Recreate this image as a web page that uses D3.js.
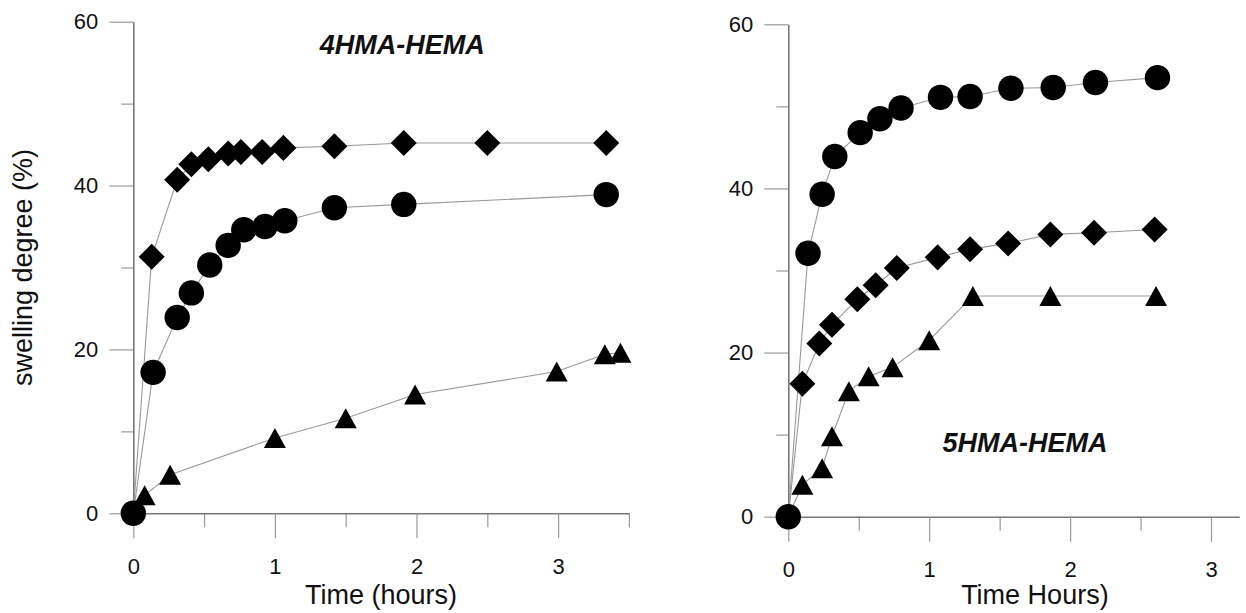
<!DOCTYPE html>
<meta charset="utf-8">
<html>
<head>
	<script src="https://cdn.jsdelivr.net/npm/d3@7/dist/d3.min.js"></script>
	<style>
		body { margin: 0; background: #fff; }
		svg { display: block; font-family: Arial, "Liberation Sans", sans-serif; }
		.tick text { font-size: 22px; fill: #111; }
		.ttl { font-size: 27px; fill: #111; }
		.name { font-size: 27px; font-weight: bold; font-style: italic; fill: #111; }
	</style>
</head>
<body>
	<svg id="chart" width="1246" height="613"></svg>
	<script>
	// 4HMA-HEMA (left panel)
	var leftDiamondT = [0, 0.13, 0.31, 0.41, 0.53, 0.67, 0.76, 0.91, 1.06, 1.42, 1.91, 2.5, 3.34];
	var leftDiamondY = [0, 31.3, 40.7, 42.6, 43.2, 43.9, 44.1, 44.1, 44.6, 44.8, 45.2, 45.2, 45.2];
	var leftCircleT = [0, 0.14, 0.31, 0.41, 0.54, 0.67, 0.78, 0.93, 1.07, 1.42, 1.91, 3.34];
	var leftCircleY = [0, 17.2, 23.9, 26.9, 30.3, 32.7, 34.6, 35.0, 35.7, 37.3, 37.7, 38.9];
	var leftTriT = [0, 0.08, 0.26, 1.0, 1.5, 1.99, 2.99, 3.33, 3.44];
	var leftTriY = [0, 2.2, 4.7, 9.2, 11.6, 14.5, 17.3, 19.4, 19.6];

	// 5HMA-HEMA (right panel)
	var rightCircleT = [0, 0.14, 0.24, 0.33, 0.51, 0.65, 0.8, 1.08, 1.29, 1.58, 1.88, 2.18, 2.62];
	var rightCircleY = [0, 32.1, 39.3, 43.9, 46.8, 48.5, 49.8, 51.1, 51.2, 52.2, 52.3, 52.9, 53.5];
	var rightDiamondT = [0, 0.1, 0.22, 0.31, 0.49, 0.62, 0.77, 1.06, 1.29, 1.56, 1.86, 2.17, 2.6];
	var rightDiamondY = [0, 16.2, 21.1, 23.4, 26.5, 28.2, 30.3, 31.6, 32.6, 33.3, 34.4, 34.6, 35.0];
	var rightTriT = [0, 0.1, 0.24, 0.31, 0.43, 0.57, 0.74, 1.0, 1.31, 1.86, 2.61];
	var rightTriY = [0, 3.9, 5.9, 9.8, 15.3, 17.1, 18.2, 21.5, 26.9, 26.9, 26.9];

	var xMajor = [0, 1, 2, 3];
	var yMajor = [0, 20, 40, 60];
	var yMinor = [10, 30, 50];

	var svg = d3.select("#chart");

	var panels = [
		{ name: "4HMA-HEMA", xmax: 3.5, xr: [133.3, 628.9], yr: [513.3, 21.7],
		  xMinor: [0.5, 1.5, 2.5, 3.5], nameAt: [1.9, 56.1], showYTitle: true,
		  xTitle: "Time (hours)",
		  series: [
			{ t: leftDiamondT, y: leftDiamondY, sym: "diamond" },
			{ t: leftTriT, y: leftTriY, sym: "triangle" },
			{ t: leftCircleT, y: leftCircleY, sym: "circle" } ] },
		{ name: "5HMA-HEMA", xmax: 3.2, xr: [788.3, 1239.2], yr: [516.7, 24.3],
		  xMinor: [0.5, 1.5, 2.5], nameAt: [1.68, 7.9], showYTitle: false,
		  xTitle: "Time Hours)",
		  series: [
			{ t: rightDiamondT, y: rightDiamondY, sym: "diamond" },
			{ t: rightTriT, y: rightTriY, sym: "triangle" },
			{ t: rightCircleT, y: rightCircleY, sym: "circle" } ] }
	];

	var circleSym = d3.symbol().type(d3.symbolCircle).size(Math.PI * 12.7 * 12.7);
	var squareSym = d3.symbol().type(d3.symbolSquare).size(18.4 * 18.4);

	panels.forEach(function(p) {
		var x = d3.scaleLinear().domain([0, p.xmax]).range(p.xr);
		var y = d3.scaleLinear().domain([0, 60]).range(p.yr);
		var g = svg.append("g");

		// x axis: minor then major ticks
		var xMin = g.append("g")
			.attr("transform", "translate(0," + p.yr[0] + ")")
			.call(d3.axisBottom(x).tickValues(p.xMinor).tickSize(14).tickSizeOuter(0).tickFormat(""));
		xMin.select(".domain").remove();
		var xAx = g.append("g")
			.attr("transform", "translate(0," + p.yr[0] + ")")
			.call(d3.axisBottom(x).tickValues(xMajor).tickSize(25).tickSizeOuter(0).tickPadding(20).tickFormat(d3.format("d")));

		var yMin = g.append("g")
			.attr("transform", "translate(" + p.xr[0] + ",0)")
			.call(d3.axisLeft(y).tickValues(yMinor).tickSize(12).tickSizeOuter(0).tickFormat(""));
		yMin.select(".domain").remove();
		var yAx = g.append("g")
			.attr("transform", "translate(" + p.xr[0] + ",0)")
			.call(d3.axisLeft(y).tickValues(yMajor).tickSize(24).tickSizeOuter(0).tickPadding(11).tickFormat(d3.format("d")));

		g.selectAll(".tick line").attr("stroke", "#999").attr("stroke-width", 1.2);
		g.selectAll(".domain").attr("stroke", "#777").attr("stroke-width", 1.6);
		g.selectAll(".tick text").attr("font-family", null).attr("font-size", null);

		// connecting lines
		var line = d3.line()
			.x(function(d) { return x(d[0]); })
			.y(function(d) { return y(d[1]); });

		p.series.forEach(function(s) {
			var pts = s.t.map(function(t, i) { return [t, s.y[i]]; });
			g.append("path")
				.datum(pts)
				.attr("d", line)
				.attr("fill", "none")
				.attr("stroke", "#999")
				.attr("stroke-width", 1.1);
		});

		// markers (origin drawn as circle only)
		p.series.forEach(function(s) {
			var pts = s.t.map(function(t, i) { return [t, s.y[i]]; })
				.filter(function(d) { return s.sym === "circle" || d[0] > 0; });
			var m = g.append("g").selectAll("path").data(pts).enter().append("path")
				.attr("fill", "#000");
			if (s.sym === "circle") {
				m.attr("d", circleSym)
					.attr("transform", function(d) { return "translate(" + x(d[0]) + "," + y(d[1]) + ")"; });
			} else if (s.sym === "diamond") {
				m.attr("d", squareSym)
					.attr("transform", function(d) { return "translate(" + x(d[0]) + "," + y(d[1]) + ") rotate(45)"; });
			} else {
				m.attr("d", "M0,-10L11,10L-11,10Z")
					.attr("transform", function(d) { return "translate(" + x(d[0]) + "," + y(d[1]) + ")"; });
			}
		});

		// labels
		g.append("text").attr("class", "name")
			.attr("x", x(p.nameAt[0])).attr("y", y(p.nameAt[1]))
			.attr("text-anchor", "middle")
			.text(p.name);

		g.append("text").attr("class", "ttl")
			.attr("x", x(1.75)).attr("y", 604)
			.attr("text-anchor", "middle")
			.text(p.xTitle);

		if (p.showYTitle) {
			g.append("text").attr("class", "ttl")
				.attr("transform", "translate(32," + y(30) + ") rotate(-90)")
				.attr("text-anchor", "middle")
				.text("swelling degree (%)");
		}
	});
	</script>
</body>
</html>
